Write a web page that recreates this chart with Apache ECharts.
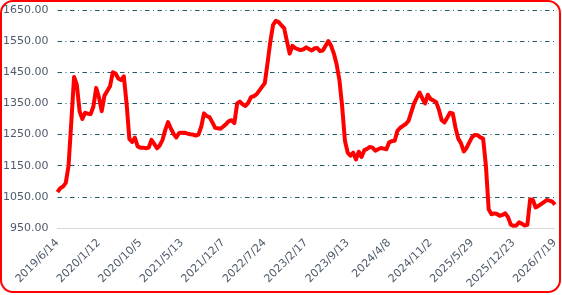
<!DOCTYPE html>
<html lang="zh">
<head>
    <meta charset="UTF-8">
    <title>价格走势</title>
    <script src="https://cdn.jsdelivr.net/npm/echarts@6/dist/echarts.min.js"></script>
    <style>
        html, body { margin: 0; padding: 0; background: #fff; }
        #chart { width: 562px; height: 295px; }
    </style>
</head>
<body>
<div id="chart"></div>
<script>
    // 横轴刻度标签（每 15 个点一个）
    const tickLabels = ['2019/6/14', '2020/1/12', '2020/10/5', '2021/5/13', '2021/12/7', '2022/7/24',
        '2023/2/17', '2023/9/13', '2024/4/8', '2024/11/2', '2025/5/29', '2025/12/23', '2026/7/19'];
    const step = 15;

    // 价格序列
    const prices = [
        1065, 1078, 1083, 1095, 1150, 1290, 1435, 1410, 1325, 1300,
        1320, 1317, 1316, 1340, 1400, 1370, 1325, 1375, 1390, 1405,
        1450, 1446, 1430, 1425, 1437, 1350, 1236, 1226, 1240, 1212,
        1208, 1208, 1206, 1208, 1233, 1220, 1206, 1215, 1233, 1265,
        1290, 1270, 1252, 1241, 1255, 1256, 1256, 1253, 1251, 1250,
        1247, 1250, 1275, 1318, 1309, 1306, 1290, 1272, 1270, 1269,
        1276, 1284, 1293, 1296, 1287, 1350, 1356, 1347, 1342, 1352,
        1370, 1373, 1379, 1391, 1403, 1415, 1480, 1548, 1602, 1615,
        1611, 1601, 1592, 1550, 1510, 1535, 1528, 1524, 1521, 1524,
        1530, 1525, 1520, 1527, 1528, 1518, 1520, 1535, 1550, 1535,
        1510, 1475, 1425, 1340, 1230, 1192, 1182, 1192, 1170, 1195,
        1178, 1200, 1204, 1210, 1208, 1198, 1203, 1207, 1205, 1203,
        1225, 1229, 1230, 1262, 1272, 1278, 1284, 1294, 1322, 1350,
        1368, 1385, 1366, 1350, 1378, 1364, 1360, 1354, 1330, 1296,
        1289, 1304, 1320, 1318, 1272, 1237, 1222, 1196, 1207, 1225,
        1242, 1249, 1248, 1241, 1237, 1150, 1010, 994, 997, 995,
        989, 992, 997, 985, 961, 957, 958, 968, 964, 958,
        960, 1042, 1040, 1016, 1021, 1027, 1033, 1040, 1038, 1035,
        1025
    ];

    const categories = prices.map((v, i) => (i % step === 0 ? tickLabels[i / step] : ''));

    const chart = echarts.init(document.getElementById('chart'));

    chart.setOption({
        animation: false,
        grid: { left: 54, right: 7, top: 10, bottom: 67, containLabel: false },
        graphic: [{
            type: 'rect',
            shape: { x: 1, y: 1, width: 559, height: 291, r: 12 },
            style: { fill: 'none', stroke: '#ff0000', lineWidth: 2 },
            silent: true
        }],
        xAxis: {
            type: 'category',
            data: categories,
            boundaryGap: false,
            axisTick: { show: false },
            axisLine: { lineStyle: { color: '#d9d9d9', width: 1 } },
            axisLabel: {
                interval: step - 1,
                rotate: 45,
                margin: 13,
                color: '#4f5b6b',
                fontSize: 11,
                fontFamily: 'DejaVu Sans'
            },
            splitLine: { show: false }
        },
        yAxis: {
            type: 'value',
            min: 950,
            max: 1650,
            interval: 100,
            axisLine: { show: false },
            axisTick: { show: false },
            axisLabel: {
                margin: 9,
                color: '#4f5b6b',
                fontSize: 11,
                fontFamily: 'DejaVu Sans',
                formatter: v => v.toFixed(2)
            },
            splitLine: {
                lineStyle: { color: '#215968', width: 1, type: [4.5, 3.5, 1, 3.5] }
            }
        },
        series: [{
            type: 'line',
            data: prices,
            symbol: 'none',
            lineStyle: { color: '#ff0000', width: 4, join: 'round' }
        }]
    });
</script>
</body>
</html>
